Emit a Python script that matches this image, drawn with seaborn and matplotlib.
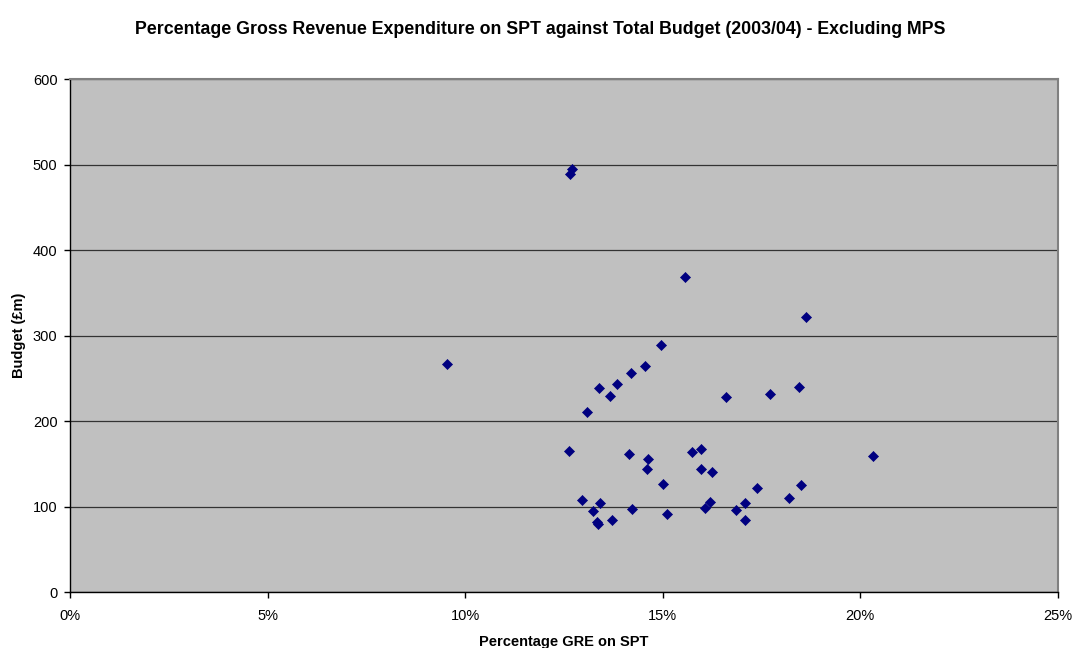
import numpy as np
import pandas as pd
import matplotlib.pyplot as plt
import seaborn as sns
from matplotlib.ticker import FuncFormatter

# Percentage of gross revenue expenditure on SPT (%) and total budget (£m)
pct_gre = [12.71, 12.66, 15.56, 18.64,
           14.97, 14.56, 14.20, 13.84, 13.38, 13.67, 13.08, 16.61, 17.72, 18.46,
           12.64, 14.15, 14.62, 14.61, 15.74, 15.97, 15.98, 16.26, 15.02,
           12.96, 13.42, 13.24, 13.35, 13.37, 13.73, 14.22, 15.11, 16.20,
           16.07, 16.85, 17.09, 17.09, 17.38, 18.20, 18.51,
           20.33, 9.53]
budget = [494.7, 489.4, 368.8, 322.3,
          288.9, 264.7, 256.5, 243.3, 238.6, 229.6, 211.2, 228.8, 231.6, 240.1,
          165.3, 161.4, 155.6, 144.2, 164.4, 167.6, 143.8, 141.1, 126.3,
          107.6, 104.1, 94.7, 82.6, 79.9, 84.9, 97.8, 91.2, 106.0,
          98.2, 96.3, 104.4, 84.2, 121.6, 109.9, 125.5,
          159.8, 267.0]

df = pd.DataFrame({'pct': pct_gre, 'budget': budget})

sns.set_style('white')
plt.rcParams['font.family'] = ['Liberation Sans', 'DejaVu Sans']
plt.rcParams['text.color'] = 'black'
plt.rcParams['axes.labelcolor'] = 'black'
plt.rcParams['xtick.color'] = 'black'
plt.rcParams['ytick.color'] = 'black'

fig = plt.figure(figsize=(10.74, 6.48), dpi=100)
ax = fig.add_axes([0.0652, 0.0860, 0.9196, 0.7916])
ax.set_facecolor('#C0C0C0')

sns.scatterplot(data=df, x='pct', y='budget', ax=ax, marker='D', s=26,
                color='#000080', edgecolor='#000080', linewidth=0.5, zorder=3)

ax.set_xlim(0, 25)
ax.set_ylim(0, 600)
ax.set_xticks(np.arange(0, 26, 5))
ax.set_yticks(np.arange(0, 601, 100))
ax.xaxis.set_major_formatter(FuncFormatter(lambda v, p: f'{v:.0f}%'))
ax.yaxis.grid(True, color='#333333', linewidth=0.9)
ax.set_axisbelow(True)

for side in ['top', 'right']:
    ax.spines[side].set_color('#808080')
    ax.spines[side].set_linewidth(1.5)
for side in ['left', 'bottom']:
    ax.spines[side].set_color('black')
    ax.spines[side].set_linewidth(1)

ax.tick_params(axis='both', direction='out', length=4, width=1, color='black',
               labelsize=10.5, bottom=True, left=True)
ax.tick_params(axis='x', pad=8)
ax.tick_params(axis='y', pad=5)

ax.set_xlabel('Percentage GRE on SPT', fontsize=10.5, fontweight='bold', labelpad=9)
ax.set_ylabel('Budget (£m)', fontsize=10.5, fontweight='bold', labelpad=5)
fig.suptitle('Percentage Gross Revenue Expenditure on SPT against Total Budget (2003/04) - Excluding MPS',
             fontsize=12.8, fontweight='bold', x=0.503, y=0.968)

fig.savefig('out.png', dpi=100)
